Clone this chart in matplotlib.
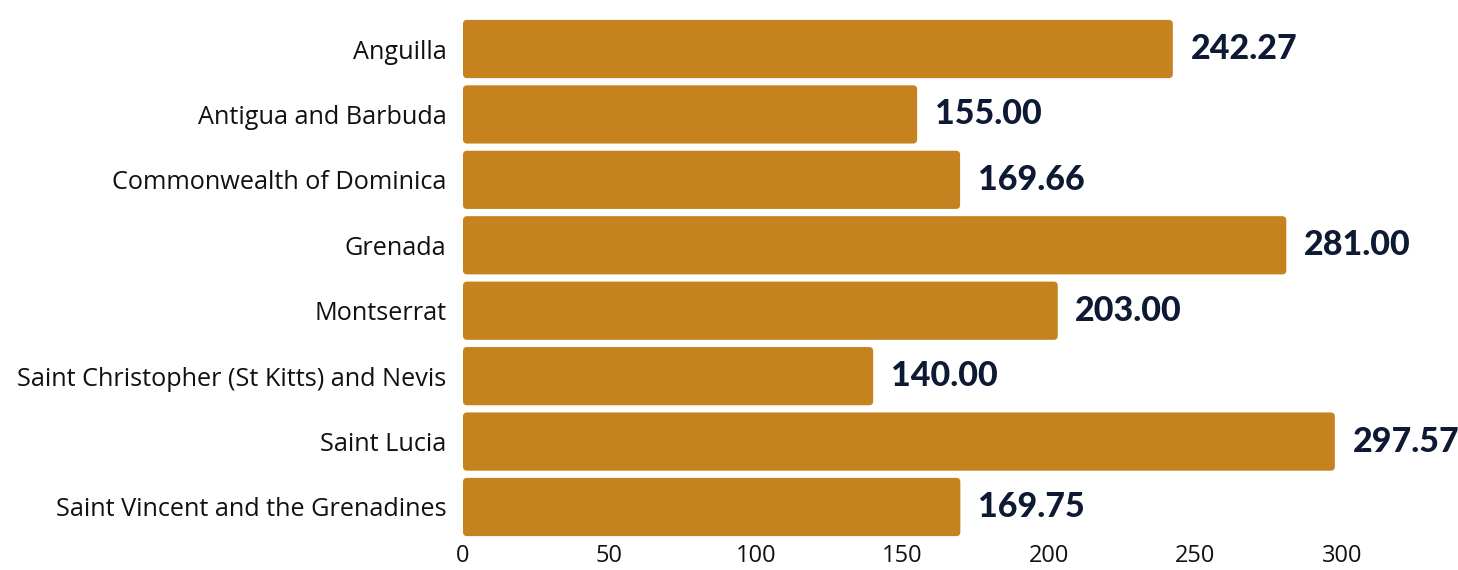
import matplotlib
matplotlib.use("Agg")
import matplotlib.pyplot as plt
from matplotlib.patches import FancyBboxPatch

countries = ["Anguilla", "Antigua and Barbuda", "Commonwealth of Dominica", "Grenada",
             "Montserrat", "Saint Christopher (St Kitts) and Nevis", "Saint Lucia",
             "Saint Vincent and the Grenadines"]
values = [242.27, 155.00, 169.66, 281.00, 203.00, 140.00, 297.57, 169.75]
xticks = [0, 50, 100, 150, 200, 250, 300]

bar_color = "#C6821F"
label_color = "#0E1A33"

fig = plt.figure(figsize=(14.58, 5.70), dpi=100)
ax = fig.add_axes([463/1458, 1-539.7/570, 1-463/1458, (539.7-16.3)/570])

bars = ax.barh(range(len(countries)), values, height=0.89, color=bar_color, linewidth=0)
for b in bars:
    x, y = b.get_x(), b.get_y()
    w, h = b.get_width(), b.get_height()
    b.set_visible(False)
    p = FancyBboxPatch((x, y), w, h, boxstyle="round,pad=0,rounding_size=1.4",
                       mutation_aspect=2.93/65.4, facecolor=bar_color, linewidth=0)
    ax.add_patch(p)

for i, v in enumerate(values):
    ax.text(v + 6, i, f"{v:.2f}", va="center", ha="left", fontsize=24.5,
            fontweight="black", color=label_color, family=["Lato", "DejaVu Sans"])

ax.set_ylim(len(countries) - 0.5, -0.5)
ax.set_xlim(0, 339.6)
ax.set_yticks(range(len(countries)))
ax.set_yticklabels(countries, fontsize=18.2, family=["Open Sans", "DejaVu Sans"], color="#111111")
ax.set_xticks(xticks)
ax.set_xticklabels([str(t) for t in xticks], fontsize=17, family=["Open Sans", "DejaVu Sans"], color="#111111")
ax.tick_params(length=0, axis="y", pad=12)
ax.tick_params(length=0, axis="x", pad=3)
for s in ax.spines.values():
    s.set_visible(False)

fig.savefig("out.png", dpi=100)
